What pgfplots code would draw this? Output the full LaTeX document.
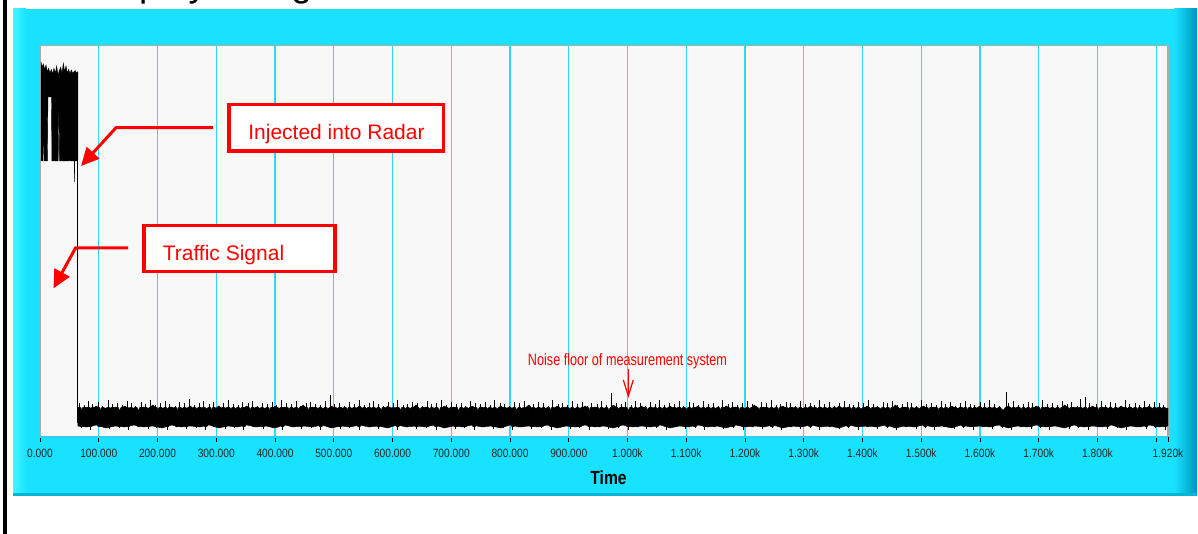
\documentclass[border=0pt]{standalone}
\usepackage{fontspec}
\setmainfont{Liberation Sans}
\usepackage{graphicx}
\usepackage{pgfplots}
\pgfplotsset{compat=1.18}
\usetikzlibrary{arrows.meta}
\definecolor{panel}{RGB}{24,226,255}
\definecolor{panellight}{RGB}{70,245,255}
\definecolor{paneldark}{RGB}{0,150,185}
\definecolor{plotbg}{RGB}{248,248,248}
\definecolor{gridc}{RGB}{50,215,250}
\definecolor{annred}{RGB}{255,0,0}
\newcommand\tl[1]{\scalebox{0.85}[1]{#1}}
\begin{document}
\begin{tikzpicture}
\path[use as bounding box] (0,0) rectangle (1198bp,534bp);
\begin{scope}[x=1bp,y=1bp]
\fill[white] (0,0) rectangle (1198,534);
\node[anchor=base west, inner sep=0pt, font=\fontsize{37bp}{40bp}\selectfont] at (85.6,537.6) {Display of Signal};
\fill[black] (3.3,0) rectangle (6.8,534);
\fill[panel] (13,38) rectangle (1197,525);
\shade[left color=panellight, right color=panel] (13,38) rectangle (26,525);
\shade[left color=panel, right color=paneldark] (1174,38) rectangle (1197,525);
\fill[paneldark!60!panel] (13,38) rectangle (1197,41);
\end{scope}
\begin{axis}[
  at={(40bp,97bp)}, anchor=south west,
  width=1128bp, height=391bp, scale only axis,
  xmin=0, xmax=1920, ymin=0, ymax=391,
  axis background/.style={fill=plotbg},
  axis line style={draw=gray!65, line width=1bp},
  ytick=\empty,
  xtick={0,100,200,300,400,500,600,700,800,900,1000,1100,1200,1300,1400,1500,1600,1700,1800,1900,1920},
  xticklabels={\tl{0.000},\tl{100.000},\tl{200.000},\tl{300.000},\tl{400.000},\tl{500.000},\tl{600.000},\tl{700.000},\tl{800.000},\tl{900.000},\tl{1.000k},\tl{1.100k},\tl{1.200k},\tl{1.300k},\tl{1.400k},\tl{1.500k},\tl{1.600k},\tl{1.700k},\tl{1.800k},,\tl{1.920k}},
  xtick pos=left, tick align=outside,
  major tick length=5bp,
  tick style={black, line width=0.9bp},
  xmajorgrids, grid style={gridc, line width=1.3bp},
  xticklabel style={font=\fontsize{12bp}{13bp}\selectfont, text=black!85, inner sep=0pt, anchor=north, yshift=-7bp},
]
% high-level injected signal
\addplot[fill=black, draw=black, line width=0.4bp] coordinates {
(1.7,375)(3.4,370)(5.7,373)(7.9,367.7)(10.2,372)(12.5,365)(14.7,368.7)(17,363.7)(19.3,367.7)(21.5,363)(23.8,368.7)(26.1,363.7)(28.4,371)(30.6,362)(32.9,366.3)(35.2,369.7)(37.4,363.7)(39.7,373.7)(42,365.3)(44.3,371)(46.5,363.7)(48.8,367.7)(51.1,363)(53.3,367)(55.6,363.7)(57.9,365.3)(60.1,366.3)(62.4,363.7)(64.5,365.3)
(64.5,277)(62,276)(59.2,276)(58.8,255)(58.4,276)(51,276)(50.3,299)(49.5,276)(33.2,276)(32.5,322)(31.7,322)(31,276)(20.3,276)(19.5,340)(13.5,340)(12.5,276)(7,276)(6,300)(5.4,300)(4.8,276)(1.7,276)
};
% drop
\addplot[black, line width=1bp] coordinates {(63.5,278) (63.5,14)};
% noise floor band
\addplot[fill=black, draw=black, line width=0.4bp] coordinates {
(64,29)(72,27)(80,30)(88,28)(96,31)(104,27)(112,29)(120,28)(128,30)(136,27)(144,31)(152,28)(160,29)(168,27)(176,30)(184,28)(192,32)(200,27)(208,29)(216,28)
(224,30)(232,27)(240,29)(248,28)(256,31)(264,27)(272,30)(280,28)(288,29)(296,27)(304,31)(312,28)(320,30)(328,27)(336,29)(344,28)(352,31)(360,27)(368,30)(376,28)
(384,29)(392,27)(400,31)(408,28)(416,30)(424,27)(432,29)(440,28)(448,32)(456,27)(464,30)(472,28)(480,29)(488,27)(496,31)(504,28)(512,30)(520,27)(528,29)(536,28)
(544,31)(552,27)(560,30)(568,28)(576,29)(584,27)(592,31)(600,28)(608,30)(616,27)(624,29)(632,28)(640,32)(648,27)(656,30)(664,28)(672,29)(680,27)(688,31)(696,28)
(704,30)(712,27)(720,29)(728,28)(736,31)(744,27)(752,30)(760,28)(768,29)(776,27)(784,31)(792,28)(800,30)(808,27)(816,29)(824,28)(832,32)(840,27)(848,30)(856,28)
(864,29)(872,27)(880,31)(888,28)(896,30)(904,27)(912,29)(920,28)(928,31)(936,27)(944,30)(952,28)(960,29)(968,27)(976,32)(984,28)(992,30)(1000,27)(1008,29)(1016,28)
(1024,31)(1032,27)(1040,30)(1048,28)(1056,29)(1064,27)(1072,31)(1080,28)(1088,30)(1096,27)(1104,29)(1112,28)(1120,31)(1128,27)(1136,30)(1144,28)(1152,29)(1160,27)(1168,31)(1176,28)
(1184,30)(1192,27)(1200,29)(1208,28)(1216,32)(1224,27)(1232,30)(1240,28)(1248,29)(1256,27)(1264,31)(1272,28)(1280,30)(1288,27)(1296,29)(1304,28)(1312,31)(1320,27)(1328,30)(1336,28)
(1344,29)(1352,27)(1360,31)(1368,28)(1376,30)(1384,27)(1392,29)(1400,28)(1408,31)(1416,27)(1424,30)(1432,28)(1440,29)(1448,27)(1456,32)(1464,28)(1472,30)(1480,27)(1488,29)(1496,28)
(1504,31)(1512,27)(1520,30)(1528,28)(1536,29)(1544,27)(1552,31)(1560,28)(1568,30)(1576,27)(1584,29)(1592,28)(1600,31)(1608,27)(1616,30)(1624,28)(1632,29)(1640,27)(1648,31)(1656,28)
(1664,30)(1672,27)(1680,29)(1688,28)(1696,31)(1704,27)(1712,30)(1720,28)(1728,29)(1736,27)(1744,32)(1752,28)(1760,30)(1768,27)(1776,29)(1784,28)(1792,31)(1800,27)(1808,30)(1816,28)
(1824,29)(1832,27)(1840,31)(1848,28)(1856,30)(1864,27)(1872,29)(1880,28)(1888,31)(1896,27)(1904,30)(1912,28)(1920,29)
(1920,11)(1904,10)(1888,12)(1872,10)(1856,11)(1840,9)(1824,12)(1808,10)(1792,11)(1776,10)(1760,12)(1744,9)(1728,11)(1712,10)(1696,12)(1680,10)(1664,11)(1648,9)(1632,12)(1616,10)
(1600,11)(1584,10)(1568,12)(1552,9)(1536,11)(1520,10)(1504,12)(1488,10)(1472,11)(1456,9)(1440,12)(1424,10)(1408,11)(1392,10)(1376,12)(1360,9)(1344,11)(1328,10)(1312,12)(1296,10)
(1280,11)(1264,9)(1248,12)(1232,10)(1216,11)(1200,10)(1184,12)(1168,9)(1152,11)(1136,10)(1120,12)(1104,10)(1088,11)(1072,9)(1056,12)(1040,10)(1024,11)(1008,10)(992,12)(976,9)
(960,11)(944,10)(928,12)(912,10)(896,11)(880,9)(864,12)(848,10)(832,11)(816,10)(800,12)(784,9)(768,11)(752,10)(736,12)(720,10)(704,11)(688,9)(672,12)(656,10)
(640,11)(624,10)(608,12)(592,9)(576,11)(560,10)(544,12)(528,10)(512,11)(496,9)(480,12)(464,10)(448,11)(432,10)(416,12)(400,9)(384,11)(368,10)(352,12)(336,10)
(320,11)(304,9)(288,12)(272,10)(256,11)(240,10)(224,12)(208,9)(192,11)(176,10)(160,12)(144,10)(128,11)(112,9)(96,12)(80,10)(64,11)
};
% upward noise spikes
\addplot[only marks, mark=none, error bars/.cd, y dir=plus, y explicit, error mark=none,
  error bar style={draw=black, line width=0.9bp}] table[x=x, y=b, y error=e] {
x b e
67 28 6
75 28 4
83 28 8
90 28 5
99 28 7
107 28 3
116 28 9
123 28 5
131 28 6
140 28 4
148 28 8
155 28 6
163 28 3
172 28 7
180 28 5
188 28 9
197 28 4
205 28 6
213 28 8
221 28 5
230 28 3
238 28 7
246 28 6
254 28 10
263 28 4
271 28 6
279 28 8
288 28 5
296 28 7
304 28 3
312 28 6
321 28 9
329 28 5
337 28 4
345 28 7
354 28 6
362 28 8
370 28 3
378 28 6
387 28 5
395 28 7
403 28 4
411 28 9
420 28 6
428 28 5
436 28 8
444 28 3
453 28 6
461 28 7
469 28 5
477 28 4
486 28 8
495 28 14
502 28 5
510 28 6
519 28 3
527 28 7
535 28 5
543 28 9
552 28 4
560 28 6
568 28 8
576 28 5
585 28 3
593 28 7
601 28 6
609 28 9
618 28 4
626 28 5
634 28 7
642 28 6
651 28 3
659 28 8
667 28 5
675 28 6
684 28 9
692 28 4
700 28 7
708 28 5
717 28 6
725 28 3
733 28 8
741 28 6
750 28 5
758 28 7
766 28 4
774 28 9
783 28 6
791 28 5
799 28 3
807 28 7
816 28 6
824 28 8
832 28 4
840 28 5
849 28 7
857 28 6
865 28 3
873 28 9
882 28 5
890 28 6
898 28 4
906 28 8
915 28 5
923 28 7
931 28 3
939 28 6
948 28 5
956 28 8
964 28 4
973 28 16
981 28 6
989 28 5
997 28 7
1006 28 4
1014 28 8
1022 28 6
1030 28 3
1039 28 7
1047 28 5
1055 28 9
1063 28 4
1072 28 6
1080 28 5
1088 28 8
1096 28 3
1105 28 7
1113 28 6
1121 28 4
1129 28 8
1138 28 5
1146 28 6
1154 28 3
1162 28 9
1171 28 5
1179 28 7
1187 28 4
1195 28 6
1204 28 8
1212 28 5
1220 28 3
1228 28 7
1237 28 6
1245 28 9
1253 28 4
1261 28 5
1270 28 7
1278 28 6
1286 28 3
1294 28 8
1303 28 5
1311 28 6
1319 28 4
1327 28 9
1336 28 5
1344 28 7
1352 28 3
1360 28 6
1369 28 8
1377 28 5
1385 28 4
1393 28 7
1402 28 6
1410 28 9
1418 28 5
1426 28 3
1435 28 7
1443 28 6
1451 28 8
1459 28 4
1468 28 5
1476 28 7
1484 28 6
1492 28 3
1501 28 9
1509 28 5
1517 28 6
1525 28 4
1534 28 8
1542 28 5
1550 28 7
1558 28 3
1567 28 6
1575 28 8
1583 28 5
1591 28 4
1600 28 7
1608 28 6
1616 28 9
1624 28 5
1633 28 3
1645 28 17
1649 28 6
1657 28 8
1666 28 4
1674 28 5
1682 28 7
1690 28 6
1699 28 3
1707 28 9
1715 28 5
1723 28 6
1732 28 4
1740 28 8
1748 28 5
1756 28 7
1765 28 3
1771 28 10
1779 28 12
1787 28 6
1798 28 5
1806 28 8
1814 28 4
1822 28 7
1831 28 6
1839 28 3
1847 28 9
1855 28 5
1864 28 6
1872 28 4
1880 28 8
1888 28 5
1897 28 7
1905 28 6
1913 28 4
};
% downward noise dips
\addplot[only marks, mark=none, error bars/.cd, y dir=minus, y explicit, error mark=none,
  error bar style={draw=black, line width=0.9bp}] table[x=x, y=b, y error=e] {
x b e
70 12 3
86 12 5
101 12 2
119 12 4
135 12 3
150 12 5
168 12 2
184 12 4
199 12 3
217 12 5
233 12 2
249 12 4
266 12 3
282 12 5
298 12 2
315 12 4
331 12 3
347 12 5
364 12 2
380 12 4
396 12 3
413 12 5
429 12 2
445 12 4
462 12 3
478 12 5
494 12 2
511 12 4
527 12 3
543 12 5
560 12 2
576 12 4
592 12 3
609 12 5
625 12 2
641 12 4
658 12 3
674 12 5
690 12 2
707 12 4
723 12 3
739 12 5
756 12 2
772 12 4
788 12 3
805 12 5
821 12 2
837 12 4
854 12 3
870 12 5
886 12 2
903 12 4
919 12 3
935 12 5
952 12 2
968 12 4
984 12 3
1001 12 5
1017 12 2
1033 12 4
1050 12 3
1066 12 5
1082 12 2
1099 12 4
1115 12 3
1131 12 5
1148 12 2
1164 12 4
1180 12 3
1197 12 5
1213 12 2
1229 12 4
1246 12 3
1262 12 5
1278 12 2
1295 12 4
1311 12 3
1327 12 5
1344 12 2
1360 12 4
1376 12 3
1393 12 5
1409 12 2
1425 12 4
1442 12 3
1458 12 5
1474 12 2
1491 12 4
1507 12 3
1523 12 5
1540 12 2
1556 12 4
1572 12 3
1589 12 5
1605 12 2
1621 12 4
1638 12 3
1654 12 5
1670 12 2
1687 12 4
1703 12 3
1719 12 5
1736 12 2
1752 12 4
1768 12 3
1785 12 5
1801 12 2
1817 12 4
1834 12 3
1850 12 5
1866 12 2
1883 12 4
1899 12 3
1915 12 5
};
\end{axis}
\begin{scope}[x=1bp,y=1bp]
\draw[gridc!80!black!20!gridc, line width=1.2bp] (40,97) -- (1168,97);
% x label
\node[anchor=base, inner sep=0pt, font=\fontsize{19bp}{21bp}\selectfont\bfseries] at (608.5,50) {\scalebox{0.82}[1]{Time}};
% annotation boxes
\draw[annred, line width=3.2bp, fill=white] (229,383) rectangle (443.7,429.7);
\node[anchor=base, inner sep=0pt, text=annred, font=\fontsize{21bp}{24bp}\selectfont] at (336.5,394) {Injected into Radar};
\draw[annred, line width=3.2bp, fill=white] (144,262.3) rectangle (335,308.3);
\node[anchor=base, inner sep=0pt, text=annred, font=\fontsize{21bp}{24bp}\selectfont] at (223.5,274) {Traffic Signal};
% arrows
\draw[annred, line width=3bp, -{Triangle[length=18bp,width=17bp]}] (213,406.3) -- (116,406.3) -- (81,368);
\draw[annred, line width=3bp, -{Triangle[length=18bp,width=17bp]}] (128,286) -- (75.5,286) -- (53.5,245.7);
% noise floor note
\node[anchor=base, inner sep=0pt, text=annred, font=\fontsize{16.5bp}{18bp}\selectfont] at (627.5,168.3) {\scalebox{0.767}[1]{Noise floor of measurement system}};
\draw[annred, line width=1.2bp, -{Straight Barb[length=16bp,width=10bp]}] (628.3,165) -- (628.3,136);
\end{scope}
\end{tikzpicture}
\end{document}
